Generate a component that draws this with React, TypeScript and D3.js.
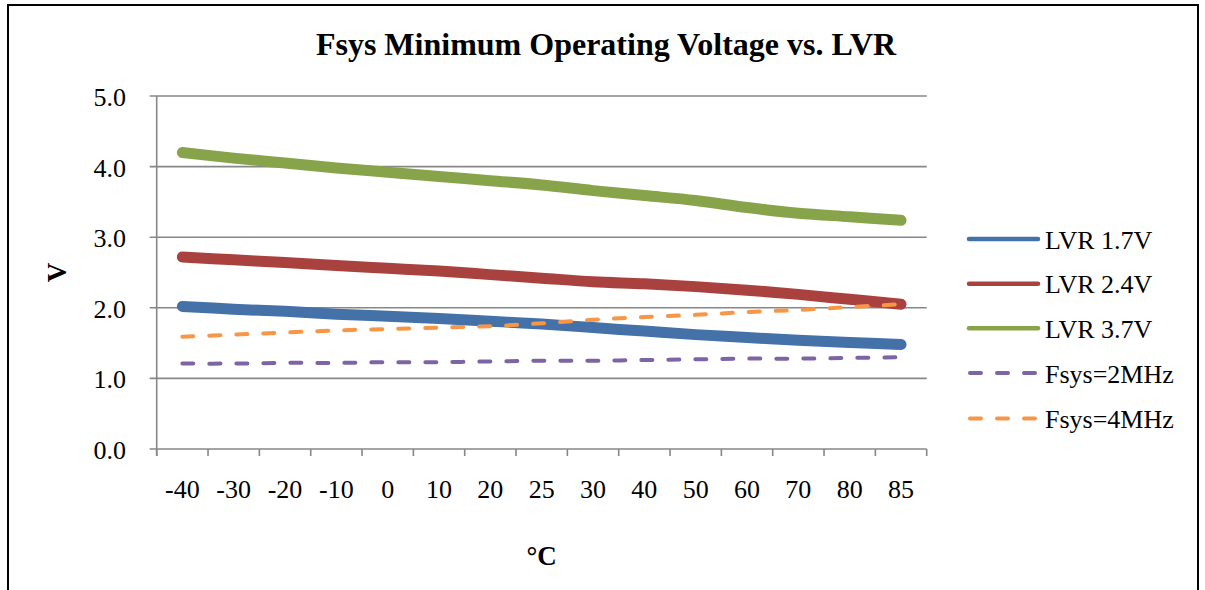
import React from "react";
import * as d3 from "d3";

const categories = ["-40", "-30", "-20", "-10", "0", "10", "20", "25", "30", "40", "50", "60", "70", "80", "85"];
const lvr17 = [2.02, 1.98, 1.95, 1.91, 1.88, 1.85, 1.81, 1.77, 1.72, 1.67, 1.62, 1.58, 1.54, 1.51, 1.48];
const lvr24 = [2.72, 2.68, 2.64, 2.6, 2.56, 2.52, 2.47, 2.42, 2.37, 2.34, 2.3, 2.25, 2.19, 2.12, 2.05];
const lvr37 = [4.2, 4.12, 4.05, 3.98, 3.92, 3.86, 3.8, 3.74, 3.66, 3.59, 3.52, 3.42, 3.34, 3.29, 3.24];
const fsys2 = [1.21, 1.21, 1.22, 1.22, 1.23, 1.23, 1.24, 1.25, 1.25, 1.26, 1.27, 1.28, 1.28, 1.29, 1.3];
const fsys4 = [1.59, 1.62, 1.65, 1.68, 1.7, 1.72, 1.74, 1.78, 1.83, 1.87, 1.9, 1.94, 1.97, 2.01, 2.05];
const yTicks = [0, 1, 2, 3, 4, 5];

const seriesNames = ["LVR 1.7V", "LVR 2.4V", "LVR 3.7V", "Fsys=2MHz", "Fsys=4MHz"];
const seriesValues = [lvr17, lvr24, lvr37, fsys2, fsys4];
const seriesColors = ["#4371A8", "#A9423F", "#87A44B", "#7F64A3", "#F79646"];
const seriesDashed = [false, false, false, true, true];

const FONT = "'Liberation Serif', 'Times New Roman', serif";

export default function App() {
  const W = 1205;
  const H = 590;
  const left = 156.7;
  const right = 926.7;
  const top = 96;
  const bottom = 449;
  const x = d3.scaleBand<string>().domain(categories).range([left, right]).padding(0);
  const y = d3.scaleLinear().domain([0, 5]).range([bottom, top]);
  const cx = (c: string) => (x(c) as number) + x.bandwidth() / 2;
  const line = d3
    .line<number>()
    .x((_, i) => cx(categories[i]))
    .y((d) => y(d))
    .curve(d3.curveCatmullRom.alpha(0.5));

  const gridColor = "#878787";
  const legendRows = [239, 283.7, 328.3, 373, 418.5];

  return (
    <svg
      width={W}
      height={H}
      style={{ position: "absolute", left: 0, top: 0, background: "#fff" }}
      fontFamily={FONT}
    >
      <rect x={0} y={0} width={W} height={H} fill="#fff" />
      <rect x={8} y={5} width={1190} height={640} fill="#fff" stroke="#000" strokeWidth={2} />
      <text x={606} y={55} textAnchor="middle" fontSize={32} fontWeight="bold" fill="#000">
        Fsys Minimum Operating Voltage vs. LVR
      </text>

      {/* gridlines */}
      {yTicks.map((t) => (
        <line key={"g" + t} x1={left - 7} x2={right} y1={y(t)} y2={y(t)} stroke={gridColor} strokeWidth={1.6} />
      ))}
      {/* y axis */}
      <line x1={left} x2={left} y1={top} y2={bottom + 7} stroke={gridColor} strokeWidth={1.6} />
      {/* x ticks */}
      {categories.map((c) => (
        <line key={"t" + c} x1={x(c) as number} x2={x(c) as number} y1={bottom} y2={bottom + 7} stroke={gridColor} strokeWidth={1.6} />
      ))}
      <line x1={right} x2={right} y1={bottom} y2={bottom + 7} stroke={gridColor} strokeWidth={1.6} />

      {yTicks.map((t) => (
        <text key={"yl" + t} x={126} y={y(t) + 10} textAnchor="end" fontSize={26} fill="#000">
          {t.toFixed(1)}
        </text>
      ))}
      {categories.map((c) => (
        <text key={"xl" + c} x={cx(c)} y={498} textAnchor="middle" fontSize={26} fill="#000">
          {c}
        </text>
      ))}

      <text
        transform={`translate(${66},${(top + bottom) / 2}) rotate(-90)`}
        textAnchor="middle"
        fontSize={27}
        fontWeight="bold"
        fill="#000"
      >
        V
      </text>
      <text x={(left + right) / 2} y={565} textAnchor="middle" fontSize={27} fontWeight="bold" fill="#000">
        °C
      </text>

      {seriesValues.map((vals, si) => (
        <path
          key={"s" + si}
          d={line(vals) as string}
          fill="none"
          stroke={seriesColors[si]}
          strokeWidth={seriesDashed[si] ? 4 : 11}
          strokeLinecap="round"
          strokeLinejoin="round"
          strokeDasharray={seriesDashed[si] ? "11,16" : undefined}
        />
      ))}

      {seriesNames.map((n, si) => (
        <g key={"lg" + si}>
          <line
            x1={seriesDashed[si] ? 970 : 969}
            x2={1038}
            y1={legendRows[si]}
            y2={legendRows[si]}
            stroke={seriesColors[si]}
            strokeWidth={seriesDashed[si] ? 4 : 4.5}
            strokeLinecap="round"
            strokeDasharray={seriesDashed[si] ? "11,16" : undefined}
          />
          <text x={1045} y={legendRows[si] + 9.5} fontSize={26} fill="#000">
            {n}
          </text>
        </g>
      ))}
    </svg>
  );
}
